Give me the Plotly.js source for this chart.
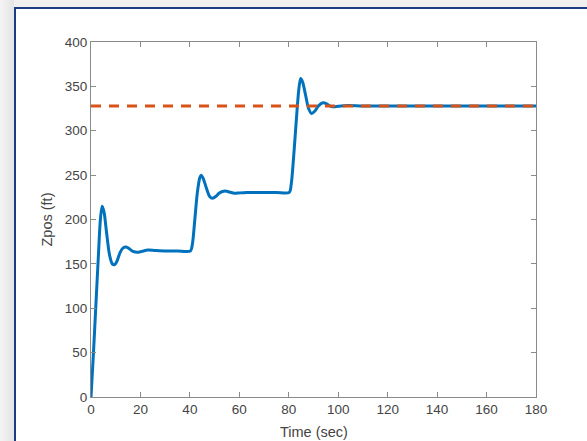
<!DOCTYPE html>
<html>
<head>
<meta charset="utf-8">
<script src="https://cdn.plot.ly/plotly-3.0.1.min.js"></script>
<style>
  html, body { margin: 0; padding: 0; width: 587px; height: 441px; overflow: hidden; background: #efefef; }
  #frame { position: absolute; left: 14px; top: 7px; width: 600px; height: 460px; background: #ffffff;
           border-left: 2px solid #1d3b85; border-top: 2px solid #1d3b85; }
  #leftshade { position: absolute; left: 0; top: 0; width: 14px; height: 441px;
               background: linear-gradient(to right, #f4f4f4, #e4e4e4); }
  #chart { position: absolute; left: 0; top: 0; width: 587px; height: 441px; }
</style>
</head>
<body>
<div id="leftshade"></div>
<div id="frame"></div>
<div id="chart"></div>
<script>
// Response
const timeSec = [0, 1, 2, 3, 3.8, 4.5, 5.3, 6.3, 7.5, 8.6, 9.5, 10.5, 11.8, 13, 14.2, 15.5, 17, 18.7, 20.5, 23, 26, 30, 35, 40.2,
                 41, 42, 43, 44, 44.6, 45.3, 46.5, 48, 49.2, 50.5, 52, 54.3, 56, 58, 60, 63, 68, 75, 80.2,
                 81, 82, 83, 84, 84.8, 85.6, 86.8, 88, 89.2, 90.5, 92, 93.8, 95.5, 97, 98.8, 101, 104, 110, 120, 140, 160, 180];
const zpos = [0, 50, 105, 160, 200, 215, 208, 185, 160, 150, 149, 153, 163, 168, 169, 167, 164, 163, 164, 165.5, 165, 164.5, 164.5, 164.5,
              172, 200, 230, 247, 250, 247, 237, 226, 224, 226, 230, 232, 231, 229.5, 230, 230.5, 230.5, 230.5, 230.5,
              240, 272, 310, 345, 359, 355, 340, 325, 319.5, 322, 328, 331.5, 330, 327.5, 327, 328, 328.5, 328, 328, 328, 328, 328];
// Target reference
const refTime = [0, 180];
const refZ = [328, 328];

const xTicks = [0, 20, 40, 60, 80, 100, 120, 140, 160, 180];
const yTicks = [0, 50, 100, 150, 200, 250, 300, 350, 400];
const xTitle = 'Time (sec)';
const yTitle = 'Zpos (ft)';

const FONT = 'Liberation Sans, Arial, sans-serif';
const axisCommon = {
  showline: true, linecolor: '#8a8a8a', linewidth: 1, mirror: 'ticks',
  ticks: 'inside', ticklen: 5, tickcolor: '#8a8a8a', tickwidth: 1,
  showgrid: false, zeroline: false,
  tickfont: { family: FONT, size: 13.5, color: '#444444' }
};

const data = [
  { x: timeSec, y: zpos, type: 'scatter', mode: 'lines',
    line: { color: '#0072BD', width: 3, shape: 'spline', smoothing: 0.8 }, hoverinfo: 'skip' },
  { x: refTime, y: refZ, type: 'scatter', mode: 'lines',
    line: { color: '#D95319', width: 3, dash: '10px,8px' }, hoverinfo: 'skip' }
];

const layout = {
  width: 587, height: 441,
  margin: { l: 90.5, r: 51, t: 42, b: 44 },
  paper_bgcolor: 'rgba(0,0,0,0)', plot_bgcolor: '#ffffff',
  showlegend: false,
  xaxis: Object.assign({}, axisCommon, {
    range: [0, 180], tickvals: xTicks, ticktext: xTicks.map(String)
  }),
  yaxis: Object.assign({}, axisCommon, {
    range: [0, 400], tickvals: yTicks, ticktext: yTicks.map(String),
    title: { text: yTitle, font: { family: FONT, size: 14.5, color: '#444444' } }
  }),
  annotations: [
    { text: xTitle, xref: 'paper', yref: 'paper', x: 0.5, y: -0.099, xanchor: 'center', yanchor: 'middle',
      showarrow: false, font: { family: FONT, size: 14.5, color: '#444444' } }
  ]
};

Plotly.newPlot('chart', data, layout, { staticPlot: true, displayModeBar: false });
</script>
</body>
</html>
